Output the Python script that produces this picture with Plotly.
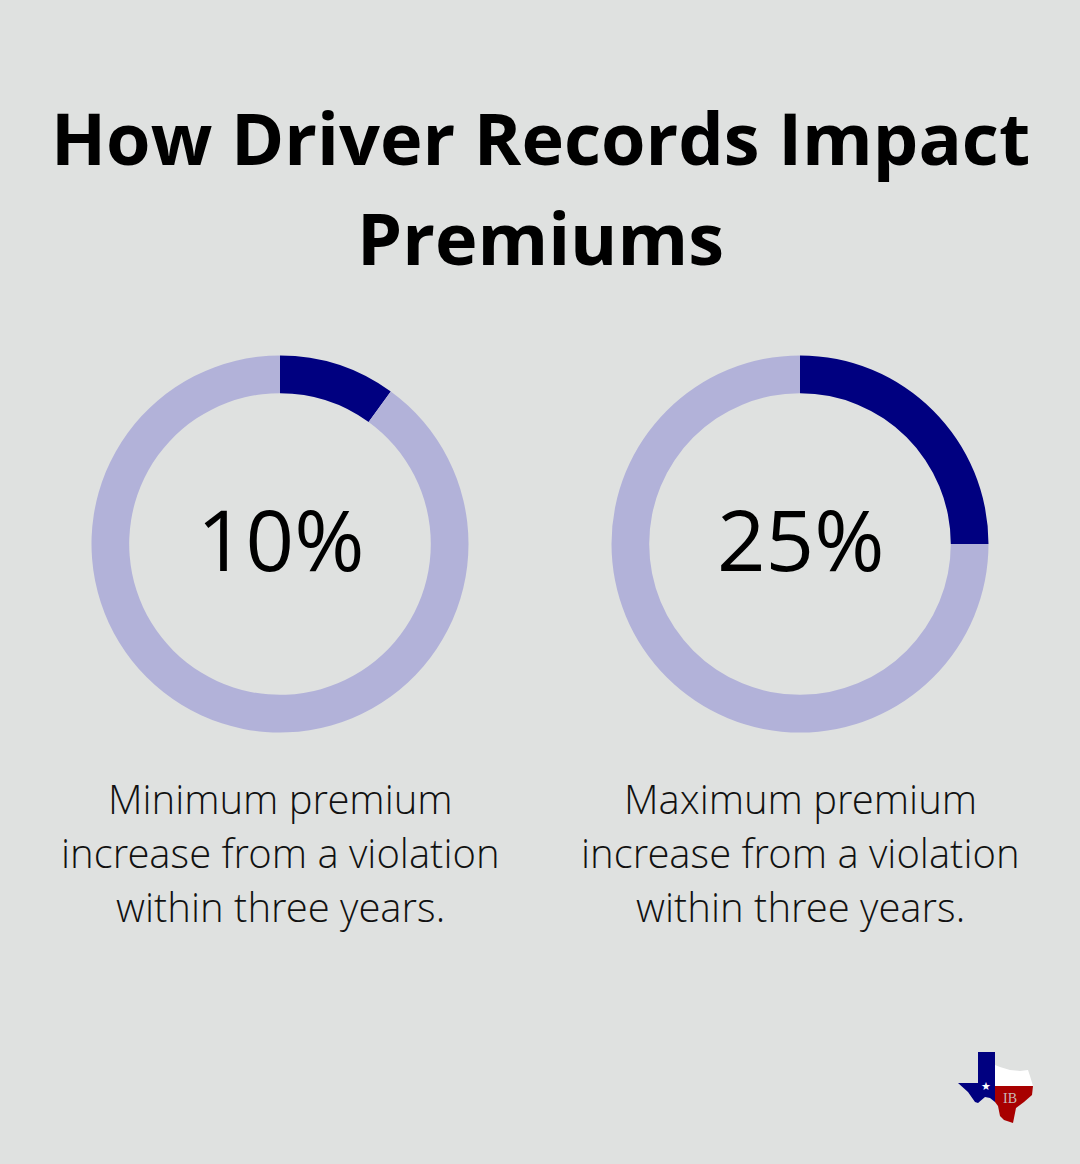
import plotly.graph_objects as go

title_lines = ["How Driver Records Impact", "Premiums"]
percent = [10, 25]
labels = ["10%", "25%"]
captions = [
    ["Minimum premium", "increase from a violation", "within three years."],
    ["Maximum premium", "increase from a violation", "within three years."],
]

W, H = 1080, 1164
BG = "#dfe1e0"
centers = [280, 800]
CY = 544
R = 188.5


def px(x):
    return x / W


def py(y):
    return 1 - y / H


def add_text(fig, x, y, text, size, family="Open Sans", color="#000000"):
    fig.add_annotation(x=px(x), y=py(y), xref="paper", yref="paper", text=text,
                       showarrow=False, xanchor="center", yanchor="middle",
                       font=dict(family=family, size=size, color=color))


def add_logo_part(fig, points, color):
    path = "M " + " L ".join(f"{px(x)} {py(y)}" for x, y in points) + " Z"
    fig.add_shape(type="path", path=path, xref="paper", yref="paper",
                  fillcolor=color, line=dict(width=0))


fig = go.Figure()
for i, p in enumerate(percent):
    cx = centers[i]
    fig.add_trace(go.Pie(
        values=[p, 100 - p],
        hole=0.8,
        sort=False,
        direction="clockwise",
        rotation=0,
        textinfo="none",
        hoverinfo="skip",
        showlegend=False,
        marker=dict(colors=["#000080", "#b2b2d9"], line=dict(width=0)),
        domain=dict(x=[(cx - R) / W, (cx + R) / W],
                    y=[1 - (CY + R) / H, 1 - (CY - R) / H]),
    ))
    add_text(fig, cx, 538, labels[i], 85)
    for j, line in enumerate(captions[i]):
        add_text(fig, cx, 798 + 54 * j, line, 40, family="Open Sans Light, Open Sans", color="#111111")

add_text(fig, 540, 137, "<b>" + title_lines[0] + "</b>", 72)
add_text(fig, 540, 237, "<b>" + title_lines[1] + "</b>", 72)

# texas logo, bottom right
add_logo_part(fig, [(978, 1052), (995, 1052), (995, 1102), (990, 1098), (985, 1097),
                    (978, 1103), (975, 1102), (968, 1092), (958, 1083), (978, 1083)], "#000080")
add_logo_part(fig, [(995, 1065), (1000, 1067), (1010, 1070), (1020, 1071), (1028, 1070),
                    (1030, 1076), (1033, 1086), (995, 1086)], "#ffffff")
add_logo_part(fig, [(995, 1086), (1033, 1086), (1032, 1095), (1024, 1102), (1016, 1108),
                    (1013, 1123), (1004, 1120), (1000, 1116), (998, 1106), (995, 1102)], "#a80000")
add_text(fig, 985.5, 1086, "★", 11, family="DejaVu Sans", color="#ffffff")
add_text(fig, 1010, 1098, "IB", 14, family="Liberation Serif", color="#c9b9b9")

fig.update_layout(width=W, height=H, paper_bgcolor=BG, plot_bgcolor=BG,
                  margin=dict(l=0, r=0, t=0, b=0))
fig.write_html("out.html", config={"displayModeBar": False},
               post_script="document.body.style.margin='0';document.body.style.background='" + BG + "';")
